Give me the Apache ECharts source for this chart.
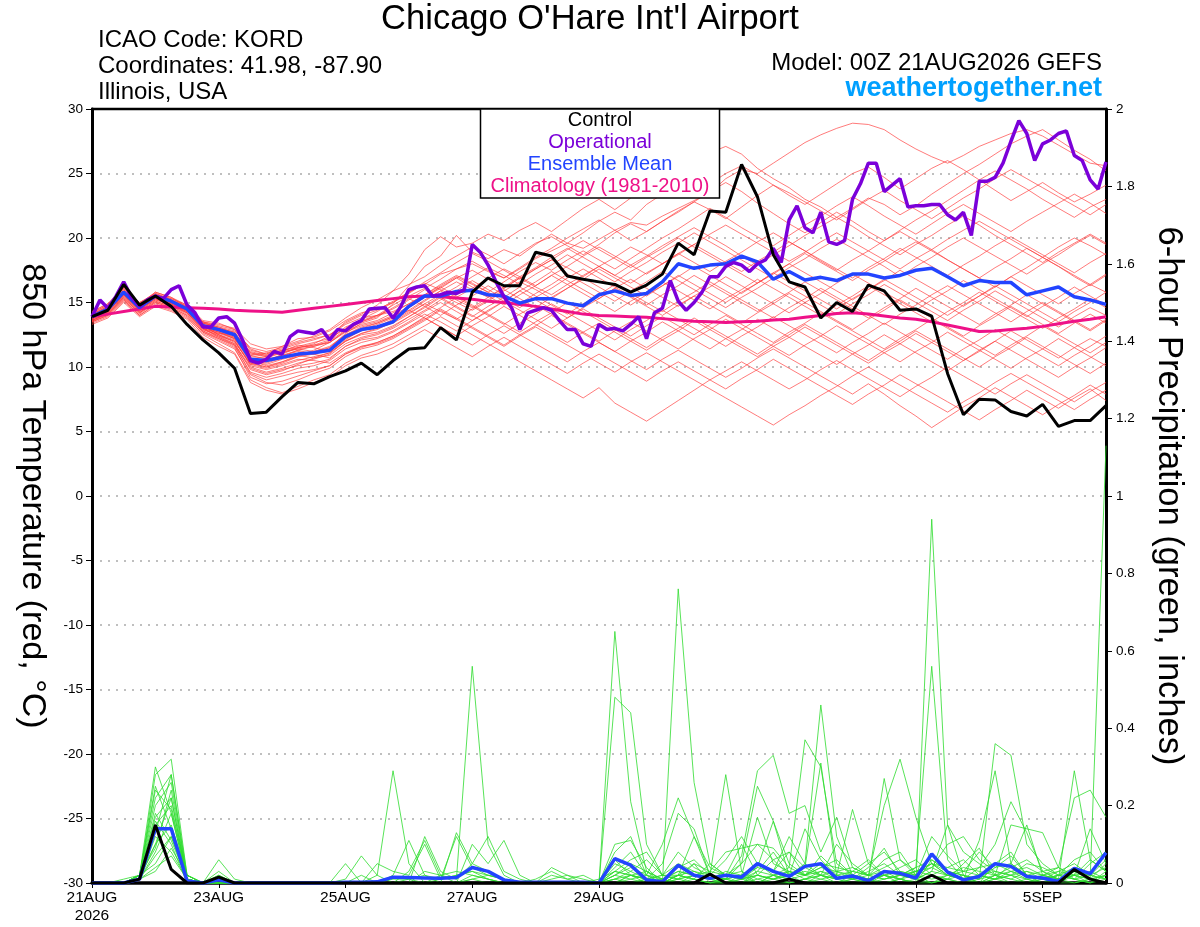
<!DOCTYPE html>
<html>
<head>
<meta charset="utf-8">
<title>Chicago O'Hare Int'l Airport - GEFS meteogram</title>
<script src="https://cdn.jsdelivr.net/npm/echarts@6/dist/echarts.min.js"></script>
<style>
  html, body { margin: 0; padding: 0; background: #fff; }
  #chart { width: 1200px; height: 927px; }
</style>
</head>
<body>
<div id="chart"></div>
<script>
// hours between forecast steps
const STEP_ENS = 6
const STEP_OPER = 3

const dateTickHours = [0, 48, 96, 144, 192, 264, 312, 360]
const dateTickLabels = ['21AUG\n2026', '23AUG', '25AUG', '27AUG', '29AUG', '1SEP', '3SEP', '5SEP']

// 850 hPa temperature, deg C
const operational = [
  13.9,15.2,14.55,15.45,16.6,15.4,14.7,15.2,15.5,15.3,16.0,16.3,14.8,14.2,13.1,13.1,13.8,13.9,13.4,12.1,
  10.5,10.3,10.6,11.2,11.0,12.35,12.8,12.7,12.6,12.9,12.1,12.9,12.8,13.3,13.6,14.5,14.55,14.6,13.8,14.7,
  16.0,16.2,16.3,15.5,15.6,15.8,15.7,16.0,19.5,18.9,17.9,16.6,15.45,14.55,12.9,14.2,14.4,14.6,14.4,13.6,
  12.9,12.9,11.8,11.6,13.3,12.9,13.0,12.8,13.3,13.9,12.2,14.2,14.55,16.7,15.1,14.4,15.0,15.8,17.0,17.0,
  17.8,18.1,17.9,17.4,18.0,18.3,19.2,18.1,21.4,22.5,20.8,20.4,22.0,19.7,19.5,19.8,23.0,24.2,25.8,25.8,
  23.6,24.1,24.6,22.4,22.5,22.5,22.6,22.6,21.8,21.4,22.0,20.2,24.4,24.4,24.7,25.8,27.5,29.1,28.1,26.0,
  27.3,27.6,28.1,28.3,26.4,26.0,24.5,23.8,25.9
]
const control = [
  13.9,14.4,16.4,14.8,15.5,14.7,13.3,12.1,11.1,9.9,6.4,6.5,7.7,8.8,8.7,9.25,9.7,10.3,9.4,10.5,
  11.4,11.5,13.05,12.1,15.8,16.9,16.3,16.3,18.9,18.6,17.05,16.8,16.6,16.4,15.8,16.35,17.2,19.6,18.7,22.1,
  22.0,25.7,23.2,18.7,16.6,16.2,13.8,15.0,14.3,16.35,15.9,14.4,14.5,13.95,9.5,6.3,7.5,7.45,6.55,6.2,
  7.1,5.4,5.85,5.85,7.0
]
const ensembleMean = [
  13.9,14.5,15.8,14.6,15.5,15.1,14.5,13.2,12.9,12.5,10.6,10.5,10.75,11.0,11.1,11.3,12.35,12.9,13.1,13.5,
  14.7,15.5,15.5,15.85,15.95,15.6,15.5,14.95,15.3,15.3,14.95,14.75,15.6,15.9,15.55,15.7,16.6,18.0,17.65,17.9,
  18.0,18.6,18.15,16.8,17.4,16.75,16.95,16.7,17.2,17.2,16.9,17.1,17.5,17.65,17.0,16.3,16.7,16.55,16.55,15.6,
  15.9,16.2,15.45,15.2,14.85
]
const climatology = [
  13.9,14.1,14.3,14.5,14.7,14.65,14.6,14.55,14.5,14.4,14.35,14.3,14.25,14.4,14.55,14.7,14.85,15.0,15.15,15.3,
  15.45,15.5,15.45,15.35,15.25,15.1,15.0,14.85,14.7,14.5,14.3,14.1,14.0,13.95,13.9,13.85,13.75,13.65,13.55,13.5,
  13.45,13.5,13.55,13.65,13.7,13.85,14.0,14.15,14.2,14.1,13.95,13.8,13.7,13.5,13.25,13.0,12.75,12.8,12.9,13.0,
  13.15,13.35,13.55,13.7,13.9
]
const tempMembers = [
  [14.2,14.8,16.2,15.0,15.6,15.3,14.8,13.6,13.4,12.9,11.4,11.0,11.6,12.2,12.3,12.8,13.6,14.2,14.5,15.0,15.8,16.4,17.2,17.6,18.0,17.4,16.9,17.6,18.4,19.0,19.6,19.2,19.9,20.6,21.2,21.0,21.7,22.3,22.9,23.5,24.6,25.3,25.0,25.8,26.6,27.4,28.0,28.5,28.9,28.8,28.4,27.6,26.9,26.3,25.8,26.4,27.1,27.6,28.1,28.4,27.9,27.2,26.5,25.8,25.6],
  [13.6,14.2,15.5,14.3,15.2,14.9,14.2,13.0,12.4,12.0,10.2,10.4,11.0,11.5,11.8,12.4,13.5,14.1,14.8,15.9,17.2,19.1,20.1,19.3,19.6,20.3,19.8,20.6,21.2,20.5,21.4,22.3,23.0,22.2,23.1,24.0,24.6,25.2,25.9,26.6,27.1,26.5,25.4,24.6,23.9,23.0,22.4,21.6,22.3,23.1,22.6,21.8,22.5,23.4,24.2,25.0,25.7,26.5,27.3,27.9,28.4,27.6,26.8,26.1,25.2],
  [14.0,14.6,15.9,14.8,15.8,15.4,14.6,13.4,13.1,12.6,10.9,10.6,10.9,11.3,11.0,11.5,12.6,13.4,13.8,14.9,16.3,17.8,18.6,20.2,18.9,18.4,19.1,18.6,19.5,20.3,19.6,20.4,21.3,22.0,21.4,22.6,23.4,24.1,24.8,24.2,25.0,25.6,24.9,24.1,23.3,22.6,23.4,24.2,25.0,25.5,24.7,23.8,24.6,25.4,26.0,25.3,24.5,23.7,22.9,23.6,24.3,23.5,22.8,23.4,24.1],
  [13.8,14.3,15.6,14.4,15.3,14.8,14.3,13.5,13.3,13.0,11.8,11.4,11.6,12.0,12.4,12.9,13.8,14.6,15.2,15.9,16.4,17.0,17.9,18.6,19.3,18.7,18.0,18.8,19.6,20.1,19.4,18.7,19.5,20.4,21.1,20.5,21.3,22.1,22.8,22.2,21.5,22.4,23.3,24.1,23.5,22.8,22.1,21.4,22.2,23.0,23.7,22.9,22.2,21.5,22.3,23.1,23.8,24.6,25.3,24.6,23.9,23.2,22.5,21.8,22.6],
  [14.1,14.7,16.0,14.7,15.4,15.0,14.4,13.1,12.7,12.2,10.5,10.1,10.4,10.9,11.3,11.9,12.8,13.5,14.0,14.8,15.5,16.1,16.8,17.6,18.2,17.5,16.9,17.7,18.5,19.2,20.0,20.7,21.4,20.6,19.8,20.5,21.3,22.0,22.8,23.6,24.3,23.6,22.7,21.9,21.1,20.4,21.2,22.0,21.3,20.5,19.8,20.6,21.4,22.1,22.9,23.7,24.5,25.2,24.5,23.8,23.0,22.3,21.6,22.4,23.0],
  [13.7,14.4,15.7,14.5,15.6,15.2,14.6,13.3,12.8,12.3,10.8,10.7,11.1,11.5,11.7,12.1,13.1,13.6,14.0,14.3,14.9,15.6,16.3,17.0,16.4,15.8,16.6,17.4,18.1,17.5,18.3,19.0,18.3,17.6,18.4,19.2,20.0,20.7,21.5,22.3,21.6,20.8,20.1,19.4,20.2,21.0,21.7,22.5,23.2,22.5,21.7,21.0,20.3,21.1,21.9,22.6,21.9,21.2,20.5,21.3,22.0,22.7,23.4,22.7,21.9],
  [14.3,14.9,16.1,14.9,15.7,15.2,14.7,13.2,12.5,11.9,10.3,10.0,10.3,10.8,11.2,11.6,12.5,13.0,13.4,13.9,14.6,15.4,16.2,16.9,17.5,16.8,16.1,16.9,17.6,18.3,17.7,17.0,17.8,18.5,19.3,18.7,18.0,18.8,19.5,20.3,21.0,20.3,19.6,18.9,18.2,18.9,19.7,20.4,19.7,19.0,18.3,17.6,18.4,19.1,19.9,20.6,21.3,20.6,19.9,19.2,18.5,19.3,20.0,19.4,18.7],
  [13.5,14.1,15.3,14.2,15.1,14.7,14.1,12.8,12.3,11.8,10.0,9.6,9.9,10.3,10.6,11.0,12.0,12.6,13.0,13.6,14.3,15.1,15.9,16.6,16.0,15.4,16.2,17.0,17.7,18.5,19.2,18.5,17.8,17.1,17.9,18.6,19.4,20.1,20.8,20.1,19.4,18.6,17.9,18.7,19.4,20.2,20.9,21.6,20.9,20.1,19.4,18.7,19.5,20.2,21.0,21.7,21.0,20.2,19.5,18.8,18.1,18.9,19.6,20.3,19.6],
  [13.9,14.5,15.8,14.6,15.5,15.1,14.5,13.0,12.6,12.5,11.2,10.9,11.3,11.6,11.9,12.2,13.0,13.7,14.3,15.0,15.7,16.5,16.0,15.4,16.1,16.9,17.6,17.0,16.3,17.1,17.8,18.6,19.3,18.6,17.9,17.2,18.0,18.7,19.5,18.8,18.1,17.4,18.2,18.9,19.7,19.0,18.3,17.6,16.9,17.7,18.4,19.2,18.5,17.8,17.1,17.9,18.6,19.4,20.1,19.4,18.7,18.0,17.3,18.1,18.8],
  [14.0,14.6,15.8,14.6,15.3,15.0,14.4,13.2,13.0,12.7,11.0,10.8,11.2,11.7,11.5,11.2,12.1,12.9,13.3,13.8,14.4,15.2,15.9,15.2,14.6,15.4,16.1,16.9,16.2,15.6,16.4,17.1,17.8,17.1,16.5,17.3,18.0,18.8,18.1,17.4,18.2,18.9,19.7,20.4,19.7,19.0,18.2,17.5,18.3,19.0,19.8,20.5,19.8,19.1,18.3,17.6,16.9,17.7,18.4,19.2,18.5,17.8,17.0,16.3,17.1],
  [13.8,14.4,15.7,14.5,15.4,15.0,14.5,13.4,13.0,12.4,10.4,10.2,10.6,10.9,10.7,10.9,11.8,12.3,12.6,13.1,13.9,14.7,15.5,16.2,17.0,17.7,17.1,16.4,17.2,17.9,18.7,18.0,17.3,16.6,17.4,18.1,18.9,19.6,20.4,19.7,19.0,18.3,17.6,16.9,17.7,18.4,19.2,19.9,19.2,18.5,17.8,17.0,17.8,18.5,19.3,20.0,19.3,18.6,17.9,17.2,18.0,18.7,19.5,20.2,19.5],
  [14.1,14.6,15.9,14.7,15.6,15.1,14.5,13.3,12.9,12.6,10.9,11.1,11.4,11.8,12.1,12.5,13.4,14.0,14.4,15.1,15.8,16.6,17.3,18.1,18.8,18.2,17.5,16.8,17.6,18.3,19.1,19.8,19.1,18.4,17.7,18.5,19.2,20.0,19.3,18.6,17.9,17.2,16.5,17.3,18.0,18.8,18.1,17.4,16.7,17.5,18.2,19.0,19.7,19.0,18.3,17.6,16.9,16.2,17.0,17.7,18.5,17.8,17.1,16.4,17.2],
  [13.9,14.5,15.7,14.5,15.5,15.1,14.6,13.2,12.8,12.4,10.4,10.3,10.7,11.0,11.1,11.2,12.3,12.9,13.0,13.4,14.1,14.9,15.6,15.0,14.4,15.1,15.9,16.6,16.0,15.3,16.1,16.8,17.6,16.9,16.2,15.5,16.3,17.0,17.8,17.1,16.4,15.7,16.5,17.2,18.0,17.3,16.6,15.9,15.2,16.0,16.7,17.5,16.8,16.1,15.4,14.7,15.5,16.2,17.0,16.3,15.6,14.9,15.7,16.4,15.8],
  [13.6,14.2,15.4,14.3,15.2,14.8,14.2,12.9,12.5,12.1,10.1,9.8,10.1,10.5,10.8,11.1,12.0,12.6,12.9,13.5,14.2,14.9,14.3,13.7,14.5,15.2,16.0,15.3,14.6,15.4,16.1,16.9,16.2,15.5,14.8,15.6,16.3,17.1,16.4,15.7,15.0,15.8,16.5,17.3,16.6,15.9,15.2,14.5,15.3,16.0,16.8,16.1,15.4,14.7,14.0,14.8,15.5,16.3,15.6,14.9,14.2,13.5,14.3,15.0,15.8],
  [14.2,14.8,16.1,14.9,15.8,15.4,14.8,13.5,13.2,12.9,11.3,11.0,11.3,11.5,11.7,11.9,12.8,13.3,13.6,14.2,14.9,15.6,16.4,17.1,16.5,15.8,15.1,15.9,16.6,17.4,16.7,16.0,15.3,16.1,16.8,16.1,15.4,14.7,15.5,16.2,17.0,16.3,15.6,14.9,14.2,15.0,15.7,16.5,17.2,16.5,15.8,15.1,14.4,15.2,15.9,16.7,16.0,15.3,14.6,13.9,14.7,15.4,16.2,15.5,14.8],
  [13.7,14.3,15.6,14.4,15.3,14.9,14.3,13.0,12.6,12.2,10.6,10.4,10.8,11.3,11.6,12.0,12.9,13.5,13.9,14.6,15.3,14.7,14.0,14.8,15.5,16.3,15.6,14.9,15.7,16.4,17.2,16.5,15.8,15.1,15.9,16.6,17.4,16.7,16.0,15.3,14.6,15.4,16.1,16.9,16.2,15.5,14.8,14.1,14.9,15.6,16.4,15.7,15.0,14.3,13.6,14.4,15.1,15.9,15.2,14.5,13.8,13.1,13.9,14.6,14.0],
  [14.0,14.6,15.9,14.7,15.5,15.0,14.4,13.1,12.7,12.3,10.7,10.5,10.9,11.2,11.0,10.7,11.6,12.2,12.5,13.0,13.7,14.4,15.2,15.9,16.7,16.0,15.3,14.6,15.4,16.1,16.9,17.6,16.9,16.2,15.5,14.8,15.6,16.3,17.1,16.4,15.7,15.0,14.3,15.1,15.8,16.6,15.9,15.2,14.5,13.8,14.6,15.3,16.1,15.4,14.7,14.0,13.3,14.1,14.8,15.6,14.9,14.2,13.5,12.8,13.6],
  [13.8,14.4,15.6,14.5,15.4,15.0,14.6,13.4,13.1,12.8,11.5,11.2,11.5,11.9,12.2,12.5,13.3,13.8,14.0,14.5,15.2,16.0,15.3,14.6,13.9,14.7,15.4,16.2,15.5,14.8,14.1,14.9,15.6,16.4,15.7,15.0,14.3,15.1,15.8,16.6,15.9,15.2,14.5,13.8,14.6,15.3,16.1,15.4,14.7,14.0,13.3,14.1,14.8,15.6,16.3,15.6,14.9,14.2,13.5,14.3,15.0,14.3,13.6,12.9,13.7],
  [13.5,14.0,15.2,14.1,15.0,14.6,14.0,12.7,12.2,11.7,9.9,9.5,9.8,10.1,10.3,10.6,11.6,12.1,12.3,12.8,13.5,14.3,15.0,14.3,13.6,14.4,15.1,15.9,15.2,14.5,13.8,14.6,15.3,16.1,15.4,14.7,14.0,14.8,15.5,14.8,14.1,13.4,14.2,14.9,15.7,15.0,14.3,13.6,12.9,13.7,14.4,15.2,14.5,13.8,13.1,12.4,13.2,13.9,14.7,14.0,13.3,12.6,13.4,14.1,13.4],
  [14.3,14.9,16.2,15.0,15.7,15.3,14.7,13.5,13.0,12.7,11.1,10.9,11.2,11.4,11.2,11.5,12.5,13.1,13.4,13.9,14.6,15.4,16.1,16.9,16.2,15.5,14.8,15.6,16.3,17.1,16.4,15.7,15.0,14.3,15.1,15.8,16.6,15.9,15.2,14.5,15.3,16.0,16.8,16.1,15.4,14.7,14.0,14.8,15.5,16.3,15.6,14.9,14.2,13.5,14.3,15.0,15.8,15.1,14.4,13.7,13.0,13.8,14.5,15.3,14.6],
  [13.6,14.2,15.4,14.2,15.1,14.7,14.2,12.8,12.2,11.6,9.6,9.2,9.5,9.9,10.1,10.5,11.4,11.9,12.2,12.7,13.4,14.1,13.5,12.8,13.6,14.3,15.1,14.4,13.7,13.0,13.8,14.5,13.8,13.1,12.4,13.2,13.9,13.2,12.5,13.3,14.0,13.3,12.6,11.9,12.7,13.4,14.2,13.5,12.8,12.1,11.4,12.2,12.9,13.7,13.0,12.3,11.6,10.9,11.7,12.4,13.2,12.5,11.8,11.1,11.9],
  [14.0,14.5,15.8,14.6,15.4,15.0,14.3,12.9,12.4,11.8,9.8,9.4,9.7,10.2,10.7,11.1,12.0,12.5,12.7,13.2,13.9,14.6,15.4,14.7,14.0,13.3,12.6,13.4,14.1,14.9,14.2,13.5,12.8,12.1,12.9,13.6,14.4,13.7,13.0,12.3,11.6,12.4,13.1,13.9,13.2,12.5,11.8,11.1,11.9,12.6,13.4,12.7,12.0,11.3,10.6,11.4,12.1,12.9,12.2,11.5,10.8,10.1,10.9,11.6,12.4],
  [13.9,14.4,15.7,14.6,15.5,15.1,14.5,13.2,12.5,12.0,10.2,9.9,10.2,10.6,10.5,10.3,11.1,11.6,11.9,12.4,13.1,13.9,14.6,15.4,14.7,14.0,13.3,14.1,14.8,14.1,13.4,12.7,12.0,12.8,13.5,12.8,12.1,11.4,12.2,12.9,13.7,13.0,12.3,11.6,10.9,11.7,12.4,13.2,12.5,11.8,11.1,10.4,11.2,11.9,12.7,12.0,11.3,10.6,9.9,10.7,11.4,12.2,11.5,10.8,10.1],
  [13.7,14.3,15.5,14.4,15.3,14.9,14.4,13.3,12.9,12.5,11.1,10.8,11.1,11.4,11.6,11.9,12.7,13.2,13.5,14.0,14.7,15.5,16.2,15.5,14.8,14.1,13.4,12.7,13.5,14.2,15.0,14.3,13.6,12.9,12.2,11.5,12.3,13.0,13.8,13.1,12.4,11.7,11.0,11.8,12.5,13.3,12.6,11.9,11.2,10.5,11.3,12.0,12.8,12.1,11.4,10.7,10.0,10.8,11.5,12.3,11.6,10.9,10.2,9.5,10.3],
  [14.1,14.7,16.0,14.8,15.6,15.2,14.5,13.0,12.3,11.7,9.5,9.0,9.3,9.6,9.8,10.1,11.0,11.6,11.8,12.3,13.0,13.7,14.5,13.8,13.1,12.4,11.7,12.5,13.2,14.0,13.3,12.6,11.9,11.2,12.0,12.7,13.5,12.8,12.1,11.4,12.2,12.9,13.7,13.0,12.3,11.6,10.9,10.2,11.0,11.7,12.5,11.8,11.1,10.4,9.7,10.5,11.2,12.0,11.3,10.6,9.9,9.2,10.0,10.7,11.5],
  [13.8,14.3,15.6,14.5,15.4,15.0,14.4,13.1,12.7,12.2,10.3,10.0,10.4,10.8,11.0,11.3,12.2,12.8,13.1,13.7,14.4,13.8,13.1,12.4,13.2,13.9,14.7,14.0,13.3,12.6,11.9,12.7,13.4,12.7,12.0,11.3,12.1,12.8,13.6,12.9,12.2,11.5,10.8,11.6,12.3,13.1,12.4,11.7,11.0,10.3,11.1,11.8,12.6,11.9,11.2,10.5,11.3,12.0,12.8,12.1,11.4,10.7,11.5,12.2,11.6],
  [13.5,14.0,15.2,14.0,14.9,14.5,13.9,12.5,11.8,11.1,9.0,8.4,8.0,8.5,9.0,9.4,10.3,10.9,11.3,11.8,12.5,13.2,13.9,13.2,12.5,11.8,11.1,10.4,9.7,9.0,8.3,7.6,8.4,7.2,6.5,5.8,6.6,7.4,8.2,9.0,9.7,10.4,9.7,9.0,8.3,9.0,9.8,10.5,9.8,9.1,8.4,7.7,8.5,9.2,10.0,9.3,8.6,7.9,8.7,9.4,8.7,8.0,7.3,8.1,8.8],
  [13.4,13.9,15.1,14.0,14.8,14.4,13.8,12.6,12.0,11.4,9.4,8.8,8.6,9.0,9.5,9.9,10.8,11.4,11.7,12.2,12.9,13.6,14.4,13.7,13.0,12.3,11.6,12.4,13.1,12.4,11.7,11.0,10.3,9.6,10.4,11.1,10.4,9.7,9.0,8.3,7.6,6.9,6.2,5.5,6.3,7.0,7.8,8.5,9.3,10.0,9.3,8.6,7.9,7.2,6.5,7.3,8.0,8.8,9.5,8.8,8.1,7.4,6.7,7.5,8.2],
  [13.6,14.1,15.3,14.2,15.0,14.6,14.0,12.7,12.1,11.5,9.2,8.7,8.9,9.3,9.7,10.1,11.0,11.5,11.9,12.4,13.1,13.8,13.1,12.4,11.7,12.5,13.2,12.5,11.8,11.1,10.4,11.2,11.9,11.2,10.5,9.8,10.6,11.3,10.6,9.9,9.2,9.9,10.7,11.4,10.7,10.0,9.3,8.6,7.9,8.7,7.9,7.0,6.2,5.3,6.1,6.9,7.6,8.4,7.7,7.0,6.3,7.1,7.8,8.6,7.9],
  [13.3,13.8,15.0,13.9,14.7,14.3,13.7,12.3,11.6,11.0,8.8,8.2,7.9,8.3,8.8,9.2,10.1,10.7,11.0,11.5,12.2,12.9,12.2,11.5,10.8,11.6,12.3,11.6,10.9,10.2,9.5,10.3,11.0,10.3,9.6,8.9,9.7,10.4,9.7,9.0,8.3,9.1,9.8,10.6,9.9,9.2,8.5,7.8,7.1,7.9,8.6,9.4,8.7,8.0,7.3,6.6,5.9,6.7,7.4,8.2,7.5,6.8,7.6,8.3,7.4]
]

// 6-hour precipitation, inches
const precipControl = [
  0,0,0,0.01,0.15,0.035,0,0,0.015,0, 0,0,0,0,0,0,0,0,0,0, 0,0,0,0,0,0,0,0,0,0,
  0,0,0,0,0,0,0,0,0,0.023, 0,0,0,0,0.01,0,0,0,0,0, 0,0,0,0.02,0,0,0,0,0,0, 0,0,0.035,0.01,0
]
const precipMean = [
  0,0,0,0.01,0.14,0.14,0.005,0,0.008,0, 0,0,0,0,0,0,0.002,0.002,0.003,0.015,
  0.014,0.013,0.012,0.014,0.04,0.03,0.008,0.002,0.002,0.002, 0.002,0.002,0,0.063,0.046,0.008,0.003,0.046,0.02,0.012,
  0.02,0.015,0.05,0.03,0.017,0.043,0.05,0.012,0.018,0.006, 0.03,0.025,0.013,0.075,0.028,0.008,0.017,0.05,0.043,0.017,
  0.013,0.004,0.038,0.024,0.078
]
const precipMembers = [
  [0,0,0,.02,.30,.18,.01,0,.02,0, 0,0,0,0,0,0,0,0,.02,.29, .05,0,0,0,.02,.01,0,0,0,0, 0,0,0,.65,.21,.03,0,.02,.05,0, .01,0,.03,.08,.02,.05,.46,.12,.02,0, .03,.01,0,.94,.15,.02,0,.05,.08,.02, 0,0,.03,.01,.05],
  [0,0,0,.01,.28,.32,.02,0,.06,.01, 0,0,0,0,0,0,0,0,0,0, 0,.12,.03,.01,.56,.10,.02,0,0,0, 0,0,0,.48,.44,.1,.02,.02,.01,0, 0,.02,.05,.02,0,.01,.03,.01,.02,0, .01,.02,.04,.56,.06,.01,0,.02,.03,.01, 0,.01,.02,0,.03],
  [0,0,0,.02,.22,.28,.01,0,.03,0, 0,0,0,0,0,0,.05,0,0,.02, .11,.02,0,.13,.05,.12,.03,.01,0,.02, .01,0,0,.1,.11,.04,0,.76,.26,.05, .02,.01,.02,.01,.03,.02,.01,.02,.19,.05, .02,.01,0,.06,.03,.02,.01,.36,.33,.1, .05,.02,.01,0,.02],
  [0,0,.01,.02,.17,.22,.01,0,.01,0, 0,0,0,0,0,0,.01,.07,.02,0, .03,.11,.02,0,.1,.05,.11,.02,0,.04, .02,0,0,.03,.02,.01,.05,.18,.14,.02, .28,.03,0,.02,.04,.37,.3,.05,.02,.01, .27,.06,.02,.05,.03,.01,.04,.1,.21,.13, .03,.01,.29,.06,.03],
  [0,0,0,.01,.13,.28,.02,0,.02,0, 0,0,0,0,0,0,0,0,.05,.03, .02,.1,.01,.02,.03,.02,.01,0,.01,.03, .01,.02,0,.06,.02,.01,.02,.05,.03,.02, .01,.07,.29,.33,.18,.2,.08,.17,.04,.02, .2,.32,.17,.05,.02,.01,.11,.29,.05,.15, .02,.04,.22,.24,.17],
  [0,0,0,.02,.10,.22,.01,0,0,0, 0,0,0,0,0,0,0,.02,0,.01, .01,.02,.01,.12,.04,.02,.01,0,0,.01, .02,.01,0,.04,.08,.02,.01,.03,.02,.01, .02,.05,.25,.16,.02,.04,.31,.02,.01,.03, .05,.02,.04,.06,.03,.02,.01,.04,.07,.02, .01,.02,.04,.01,1.13],
  [0,0,0,.01,.08,.18,.01,0,.01,0, 0,0,0,0,0,0,0,0,0,0, 0,.03,.02,.01,.05,.03,.01,0,0,0, 0,0,0,.02,.05,.03,.01,.04,.06,.02, .01,.02,.17,.05,.03,.02,.05,.04,.03,.02, .04,.06,.03,.05,.04,.03,.04,.05,.03,.02, .01,.02,.03,.02,.01],
  [0,0,0,.02,.05,.12,.01,0,0,0, 0,0,0,0,0,0,0,0,0,0, .01,0,.02,.03,.02,.01,0,0,0,0, 0,0,0,.01,.03,.06,.02,.01,.02,.01, .03,.02,.04,.16,.05,.02,.03,.02,.01,.02, .03,.02,.01,.03,.15,.08,.05,.02,.01,.03, .02,.03,.02,.01,.02],
  [0,0,0,.01,.03,.09,.02,0,0,0, 0,0,0,0,0,0,0,0,0,0, 0,0,0,0,.01,.02,.01,0,0,0, 0,0,0,0,.02,.01,0,.02,.03,.01, 0,.01,.02,.01,.02,.03,.02,.01,.02,.01, .02,.03,.02,.01,.02,.04,.03,.02,.15,.14, .13,.04,.02,.06,.03],
  [0,0,0,.01,.12,.08,.01,0,0,0, 0,0,0,0,0,0,0,0,0,0, 0,0,.01,.02,.03,.01,0,0,0,0, 0,0,0,.03,.02,.01,0,.01,.02,.03, .02,.01,.03,.02,.01,.02,.04,.03,.02,.01, .02,.01,.03,.05,.02,.01,.02,.03,.02,.01, .02,.01,.03,.02,.04],
  [0,0,0,.02,.2,.26,.01,0,0,0, 0,0,0,0,0,0,0,0,0,0, 0,0,0,0,0,0,0,0,0,0, 0,0,0,.08,.12,.02,0,.02,.12,.04, .02,.1,.02,.06,.08,.04,.02,.1,.05,.02, .06,.08,.02,.12,.07,.03,.02,.01,.05,.02, .01,.03,.05,.02,.06],
  [0,0,0,.01,.15,.2,.01,0,0,0, 0,0,0,0,0,0,0,0,0,0, 0,0,0,0,0,0,0,0,0,0, 0,0,0,.02,.04,.02,.1,.22,.12,.02, .01,.05,.1,.09,.04,.02,.07,.03,.01,.04, .09,.02,.03,.04,.1,.12,.06,.03,.02,.05, .04,.02,.06,.08,.03],
  [0,0,0,.02,.25,.14,.01,0,0,0, 0,0,0,0,0,0,0,0,0,0, 0,0,0,0,0,0,0,0,0,0, 0,0,.01,.03,.06,.08,.02,.01,.05,.03, .08,.09,.1,.06,.02,.14,.06,.02,.03,.06, .02,.04,.06,.02,.01,.05,.09,.02,.04,.06, .03,.01,.02,.14,.05],
  [0,0,0,.01,.1,.15,.02,0,0,0, 0,0,0,0,0,0,0,0,0,0, 0,0,0,0,0,0,0,0,0,0, 0,0,0,.05,.03,.01,.02,.08,.04,.02, .06,.12,.05,.03,.08,.02,.04,.06,.02,.05, .08,.03,.02,.04,.02,.03,.08,.04,.05,.02, .03,.04,.01,.05,.08],
  [0,0,0,.02,.18,.11,.01,0,0,0, 0,0,0,0,0,0,0,0,0,0, 0,0,0,0,0,0,0,0,0,0, 0,0,0,.01,.02,.03,.01,.02,.01,.05, .02,.01,.04,.03,.12,.05,.02,.03,.04,.02, .01,.02,.03,.02,.04,.06,.02,.01,.03,.04, .02,.01,.02,.03,.01],
  [0,0,0,.01,.07,.12,.01,0,0,0, 0,0,0,0,0,0,0,0,0,0, 0,0,0,0,0,0,0,0,0,0, 0,0,0,.02,.01,0,.01,.03,.02,.01, .02,.03,.01,.02,.03,.01,.02,.01,.03,.02, .01,.02,.01,.03,.02,.01,.02,.01,.02,.03, .01,.02,.01,.02,.01],
  [0,0,0,.02,.24,.19,.02,0,0,0, 0,0,0,0,0,0,0,0,0,0, 0,0,0,0,.01,0,0,0,0,0, 0,0,0,0,.01,.02,0,.01,0,.02, .01,0,.02,.01,0,.01,.02,0,.01,0, .02,.01,0,.02,.01,0,.01,.02,0,.01, 0,.02,.01,0,.01],
  [0,0,0,.01,.04,.07,.01,0,0,0, 0,0,0,0,0,0,0,0,0,0, 0,0,0,0,0,0,0,0,0,0, 0,0,0,.01,0,.01,0,.02,.01,0, .01,.02,0,.01,.02,0,.01,0,.02,.01, 0,.01,.02,0,.01,.02,0,.01,.02,0, .01,0,.02,.01,0],
  [0,0,0,.01,.16,.1,0,0,0,0, 0,0,0,0,0,0,0,0,0,0, 0,0,0,0,0,0,0,0,0,0, 0,0,0,0,.02,0,.01,0,.02,.01, 0,.01,0,.02,.01,0,.02,.01,0,.01, .02,0,.01,0,.02,.01,0,.02,.01,0, .02,.01,0,.01,.02],
  [0,0,0,.02,.09,.24,.01,0,0,0, 0,0,0,0,0,0,0,0,0,0, 0,0,0,0,0,0,0,0,0,0, 0,0,0,0,0,.01,0,0,.01,0, 0,0,.01,0,0,.01,0,0,.01,0, 0,.01,0,0,.01,0,0,.01,0,0, .01,0,0,.01,0]
]

const FONT = '"Liberation Sans", Arial, Helvetica, sans-serif'

function timed (values, step) {
  return values.map((v, i) => [i * step, v])
}

function line (name, data, color, width, axis, z) {
  return {
    name: name,
    type: 'line',
    yAxisIndex: axis,
    data: data,
    showSymbol: false,
    symbol: 'none',
    silent: true,
    z: z,
    lineStyle: { color: color, width: width },
    itemStyle: { color: color }
  }
}

const series = []
tempMembers.forEach((m, k) => series.push(line('member' + k, timed(m, STEP_ENS), 'rgba(255,60,60,0.85)', 0.8, 0, 1)))
precipMembers.forEach((m, k) => series.push(line('precip' + k, timed(m, STEP_ENS), '#2ddc2d', 0.8, 1, 2)))
series.push(line('Climatology (1981-2010)', timed(climatology, STEP_ENS), '#ee1188', 3, 0, 3))
series.push(line('Ensemble Mean', timed(ensembleMean, STEP_ENS), '#2244ff', 3.5, 0, 4))
series.push(line('Ensemble Mean precip', timed(precipMean, STEP_ENS), '#2244ff', 3.5, 1, 4))
series.push(line('Control precip', timed(precipControl, STEP_ENS), '#000', 3, 1, 5))
series.push(line('Operational', timed(operational, STEP_OPER), '#7b00d9', 3.5, 0, 5))
series.push(line('Control', timed(control, STEP_ENS), '#000', 3, 0, 6))

function txt (x, y, text, size, color, align, weight) {
  return {
    type: 'text', x: x, y: y, z: 200,
    style: {
      text: text,
      fill: color,
      font: (weight || 'normal') + ' ' + size + 'px ' + FONT,
      textAlign: align,
      textVerticalAlign: 'middle'
    }
  }
}

const chart = echarts.init(document.getElementById('chart'))
chart.setOption({
  animation: false,
  backgroundColor: '#fff',
  grid: { left: 92, right: 94, top: 109, bottom: 44 },
  xAxis: {
    type: 'value',
    min: 0,
    max: 384,
    axisLine: { onZero: false, lineStyle: { color: '#000', width: 3.5 } },
    axisTick: { customValues: dateTickHours, length: 5, lineStyle: { color: '#000', width: 1 } },
    axisLabel: {
      customValues: dateTickHours,
      formatter: v => dateTickLabels[dateTickHours.indexOf(v)] || '',
      color: '#000', fontSize: 15.5, fontFamily: FONT, margin: 6, lineHeight: 18
    },
    splitLine: { show: false }
  },
  yAxis: [
    {
      type: 'value', min: -30, max: 30, interval: 5, position: 'left',
      name: '850 hPa Temperature (red, °C)',
      nameLocation: 'middle', nameRotate: -90, nameGap: 43,
      nameTextStyle: { fontSize: 34, fontFamily: FONT, color: '#000' },
      axisLine: { show: true, onZero: false, lineStyle: { color: '#000', width: 3 } },
      axisTick: { show: true, length: 6, lineStyle: { color: '#000', width: 1 } },
      axisLabel: { color: '#000', fontSize: 13.5, fontFamily: FONT, margin: 9 },
      splitLine: { show: true, lineStyle: { color: '#aaaaaa', type: [2, 6], width: 1.5 } }
    },
    {
      type: 'value', min: 0, max: 2, interval: 0.2, position: 'right',
      name: '6-hour Precipitation (green, inches)',
      nameLocation: 'middle', nameRotate: -90, nameGap: 45,
      nameTextStyle: { fontSize: 34.5, fontFamily: FONT, color: '#000' },
      axisLine: { show: true, onZero: false, lineStyle: { color: '#000', width: 3 } },
      axisTick: { show: true, length: 6, lineStyle: { color: '#000', width: 1 } },
      axisLabel: { color: '#000', fontSize: 13.5, fontFamily: FONT, margin: 10 },
      splitLine: { show: false }
    }
  ],
  graphic: [
    txt(590, 19, "Chicago O'Hare Int'l Airport", 34.5, '#000', 'center'),
    txt(98, 40, 'ICAO Code: KORD', 24, '#000', 'left'),
    txt(98, 66, 'Coordinates: 41.98, -87.90', 24, '#000', 'left'),
    txt(98, 92, 'Illinois, USA', 24, '#000', 'left'),
    txt(1102, 63, 'Model: 00Z 21AUG2026 GEFS', 24, '#000', 'right'),
    txt(1102, 89, 'weathertogether.net', 27, '#00a0ff', 'right', 'bold'),
    {
      type: 'line', z: 140,
      shape: { x1: 91, y1: 109, x2: 1107, y2: 109 },
      style: { stroke: '#000', lineWidth: 2.5 }
    },
    {
      type: 'rect', z: 150,
      shape: { x: 480.5, y: 109, width: 239, height: 89 },
      style: { fill: '#fff', stroke: '#000', lineWidth: 1.5 }
    },
    txt(600, 120, 'Control', 20, '#000', 'center'),
    txt(600, 142, 'Operational', 20, '#7b00d9', 'center'),
    txt(600, 164, 'Ensemble Mean', 20, '#2244ff', 'center'),
    txt(600, 186, 'Climatology (1981-2010)', 20, '#ee1188', 'center')
  ],
  series: series
})
</script>
</body>
</html>
